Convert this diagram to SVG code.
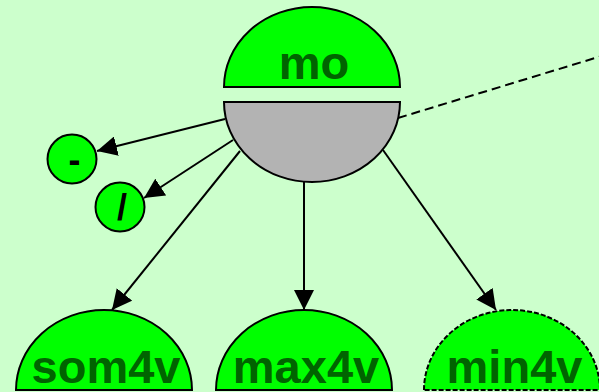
<svg xmlns="http://www.w3.org/2000/svg" width="599" height="392" viewBox="0 0 599 392">
<style>
.node{fill:#00ff00;stroke:#000;stroke-width:2}
.op{fill:#b3b3b3;stroke:#000;stroke-width:2}
.lbl{font-family:"Liberation Sans",Arial,sans-serif;font-weight:bold;font-size:47px;fill:#006400;text-anchor:middle}
.sym{font-family:"Liberation Sans",Arial,sans-serif;font-weight:bold;font-size:36px;fill:#000;text-anchor:middle}
.edge{stroke:#000;stroke-width:2;fill:none}
</style>
<defs>
<marker id="arr" markerUnits="userSpaceOnUse" markerWidth="20" markerHeight="20" refX="20" refY="10" orient="auto" viewBox="0 0 20 20">
<path d="M0,0 L20,10 L0,20 z" fill="#000"/>
</marker>
</defs>
<rect width="599" height="392" fill="#ccffcc"/>
<g id="connectors">
<line class="edge" x1="225" y1="119" x2="97" y2="151" marker-end="url(#arr)"/>
<line class="edge" x1="233" y1="140" x2="144" y2="198" marker-end="url(#arr)"/>
<line class="edge" x1="240" y1="151" x2="112" y2="310" marker-end="url(#arr)"/>
<line class="edge" x1="304" y1="182" x2="304" y2="310" marker-end="url(#arr)"/>
<line class="edge" x1="383" y1="150" x2="496" y2="310" marker-end="url(#arr)"/>
<line class="edge" x1="398" y1="118" x2="605" y2="55" stroke-dasharray="9,5"/>
</g>
<g id="mo">
<path class="node" d="M224 87 A88 80 0 0 1 400 87 Z"/>
<text class="lbl" x="314" y="79">mo</text>
<path class="op" d="M224 102 A88 80 0 0 0 400 102 Z"/>
</g>
<g id="minus">
<circle class="node" cx="72" cy="159" r="24.5"/>
<text class="sym" x="74.5" y="172">-</text>
</g>
<g id="divide">
<circle class="node" cx="120" cy="207" r="24.5"/>
<text class="sym" x="122" y="220">/</text>
</g>
<g id="som4v">
<path class="node" d="M16 390 A88 80 0 0 1 192 390 Z"/>
<text class="lbl" x="106" y="382.5">som4v</text>
</g>
<g id="max4v">
<path class="node" d="M216 390 A88 80 0 0 1 392 390 Z"/>
<text class="lbl" x="306" y="382.5">max4v</text>
</g>
<g id="min4v">
<path class="node" d="M424 390 A88 80 0 0 1 600 390 Z" stroke-dasharray="5,2"/>
<text class="lbl" x="514.5" y="382.5">min4v</text>
</g>
</svg>
